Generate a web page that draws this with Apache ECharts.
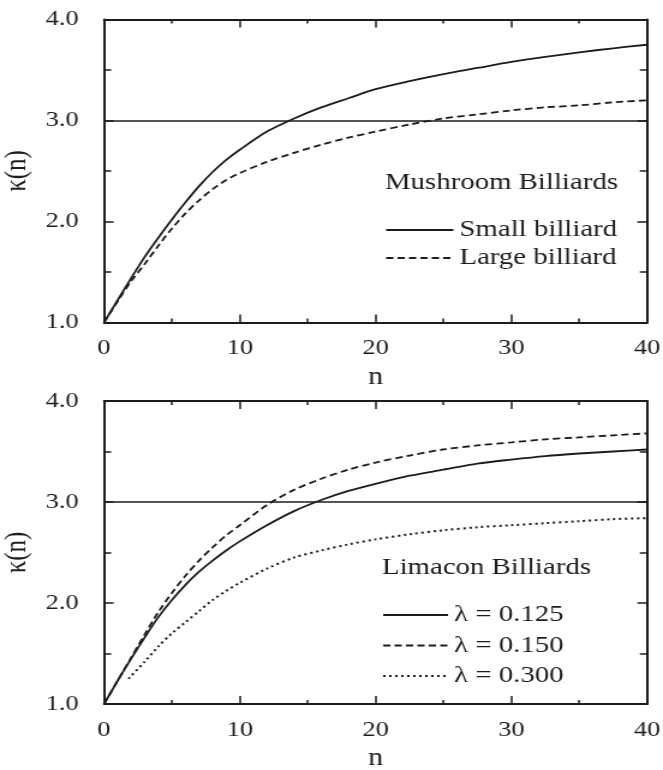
<!DOCTYPE html>
<html>
<head>
<meta charset="utf-8">
<script src="https://cdn.jsdelivr.net/npm/echarts@6/dist/echarts.min.js"></script>
<style>
  html, body { margin: 0; padding: 0; background: #fff; overflow: hidden; }
  /* the figure is laid out on a 552px wide canvas and widened to the 663px page */
  #chart { width: 552px; height: 770px; transform-origin: 0 0; transform: scaleX(1.2011); }
</style>
</head>
<body>
<div id="chart"></div>
<script>
// step number n
const nSteps = [0, 1, 2, 3, 4, 5, 6, 7, 8, 9, 10, 12, 14, 16, 18, 20, 22.5, 25, 27.5, 30, 32.5, 35, 37.5, 40];
// the lambda = 0.300 curve starts a little later
const nStepsLate = [1.8, 3, 4, 5, 6, 7, 8, 9, 10, 12, 14, 16, 18, 20, 22.5, 25, 27.5, 30, 32.5, 35, 37.5, 40];

// kappa(n), mushroom billiards
const smallBilliard = [1.00, 1.22, 1.44, 1.65, 1.84, 2.02, 2.19, 2.35, 2.49, 2.61, 2.71, 2.89, 3.02, 3.13, 3.22, 3.31, 3.39, 3.46, 3.52, 3.58, 3.63, 3.675, 3.715, 3.75];
const largeBilliard = [1.00, 1.21, 1.41, 1.58, 1.76, 1.93, 2.08, 2.21, 2.32, 2.41, 2.48, 2.59, 2.68, 2.76, 2.83, 2.89, 2.96, 3.02, 3.06, 3.10, 3.13, 3.15, 3.18, 3.20];

// kappa(n), limacon billiards
const lambda125 = [1.00, 1.23, 1.45, 1.66, 1.86, 2.03, 2.18, 2.31, 2.42, 2.52, 2.61, 2.77, 2.91, 3.02, 3.11, 3.18, 3.26, 3.32, 3.38, 3.42, 3.455, 3.48, 3.50, 3.52];
const lambda150 = [1.00, 1.23, 1.46, 1.69, 1.91, 2.10, 2.27, 2.42, 2.55, 2.67, 2.77, 2.97, 3.12, 3.23, 3.32, 3.39, 3.46, 3.52, 3.56, 3.59, 3.62, 3.64, 3.66, 3.68];
const lambda300 = [1.25, 1.42, 1.57, 1.70, 1.81, 1.92, 2.03, 2.12, 2.20, 2.34, 2.45, 2.52, 2.58, 2.63, 2.68, 2.72, 2.75, 2.77, 2.79, 2.81, 2.83, 2.84];

const referenceLevel = 3.0;
const xTicks = [0, 10, 20, 30, 40];
const yTicks = [1.0, 2.0, 3.0, 4.0];

const INK = '#1c1c1c';
const FONT = '"Liberation Serif", "Times New Roman", serif';

const zip = (xs, ys) => xs.map((x, i) => [x, ys[i]]);

function xAxisPair(grid) {
  const common = {
    gridIndex: grid, type: 'value',
    min: xTicks[0], max: xTicks[xTicks.length - 1], interval: xTicks[1] - xTicks[0],
    axisLine: { show: true, onZero: false, lineStyle: { color: INK, width: 2 } },
    axisTick: { show: true, inside: true, length: 8, lineStyle: { color: INK, width: 1.5 } },
    minorTick: { show: true, splitNumber: 2, length: 4, lineStyle: { color: INK, width: 1.5 } },
    splitLine: { show: false }
  };
  return [
    Object.assign({}, common, {
      position: 'bottom',
      axisLabel: { show: true, margin: 15, color: INK, fontFamily: FONT, fontSize: 22 },
      name: 'n', nameLocation: 'middle', nameGap: 42,
      nameTextStyle: { color: INK, fontFamily: FONT, fontSize: 25 }
    }),
    Object.assign({}, common, { position: 'top', axisLabel: { show: false } })
  ];
}

function yAxisPair(grid) {
  const common = {
    gridIndex: grid, type: 'value',
    min: yTicks[0], max: yTicks[yTicks.length - 1], interval: yTicks[1] - yTicks[0],
    axisLine: { show: true, onZero: false, lineStyle: { color: INK, width: 2 } },
    axisTick: { show: true, inside: true, length: 8, lineStyle: { color: INK, width: 1.5 } },
    minorTick: { show: true, splitNumber: 2, length: 6, lineStyle: { color: INK, width: 1.5 } },
    splitLine: { show: false }
  };
  return [
    Object.assign({}, common, {
      position: 'left',
      axisLabel: { show: true, margin: 21, color: INK, fontFamily: FONT, fontSize: 22,
                   formatter: v => v.toFixed(1) },
      name: 'κ(n)', nameLocation: 'middle', nameRotate: 90, nameGap: 57,
      nameTextStyle: { color: INK, fontFamily: FONT, fontSize: 25 }
    }),
    Object.assign({}, common, { position: 'right', axisLabel: { show: false } })
  ];
}

function curve(name, grid, data, dash, width) {
  return {
    name, type: 'line', xAxisIndex: grid * 2, yAxisIndex: grid * 2,
    data, symbol: 'none', smooth: 0.3, color: INK,
    lineStyle: { color: INK, width: width, type: dash },
    z: 3
  };
}

const levelLine = {
  silent: true, symbol: ['none', 'none'], label: { show: false },
  lineStyle: { color: INK, width: 1.7, type: 'solid' },
  data: [{ yAxis: referenceLevel }]
};

const series = [
  curve('Small billiard', 0, zip(nSteps, smallBilliard), 'solid', 1.8),
  curve('Large billiard', 0, zip(nSteps, largeBilliard), [6, 3.5], 1.8),
  curve('λ = 0.125', 1, zip(nSteps, lambda125), 'solid', 1.8),
  curve('λ = 0.150', 1, zip(nSteps, lambda150), [6, 3.5], 1.8),
  curve('λ = 0.300', 1, zip(nStepsLate, lambda300), [2, 3], 2)
];
series[0].markLine = levelLine;
series[2].markLine = levelLine;

const legendText = { color: INK, fontFamily: FONT, fontSize: 24, lineHeight: 24 };
// legend keys show only the line sample, no marker
const keyMarker = { color: 'rgba(0,0,0,0)', borderColor: 'rgba(0,0,0,0)', borderWidth: 0, opacity: 0 };

const option = {
  animation: false,
  backgroundColor: '#ffffff',
  grid: [
    { left: 86.6, right: 13.3, top: 19.5, height: 303, outerBoundsMode: 'none', containLabel: false },
    { left: 86.6, right: 13.3, top: 401, height: 303, outerBoundsMode: 'none', containLabel: false }
  ],
  xAxis: [...xAxisPair(0), ...xAxisPair(1)],
  yAxis: [...yAxisPair(0), ...yAxisPair(1)],
  title: [
    { text: 'Mushroom Billiards', left: 320.5, top: 171, padding: 0,
      textStyle: Object.assign({ fontWeight: 'normal' }, legendText) },
    { text: 'Limacon Billiards', left: 318, top: 556, padding: 0,
      textStyle: Object.assign({ fontWeight: 'normal' }, legendText) }
  ],
  legend: [
    { data: ['Small billiard', 'Large billiard'], orient: 'vertical',
      left: 320.5, top: 218, padding: 0, itemWidth: 56, itemHeight: 14, itemGap: 4,
      selectedMode: false, itemStyle: keyMarker, textStyle: legendText },
    { data: ['λ = 0.125', 'λ = 0.150', 'λ = 0.300'], orient: 'vertical',
      left: 318, top: 603, padding: 0, itemWidth: 54, itemHeight: 14, itemGap: 6.5,
      selectedMode: false, itemStyle: keyMarker, textStyle: legendText }
  ],
  series
};

const chart = echarts.init(document.getElementById('chart'), null, { renderer: 'canvas' });
chart.setOption(option);
</script>
</body>
</html>
